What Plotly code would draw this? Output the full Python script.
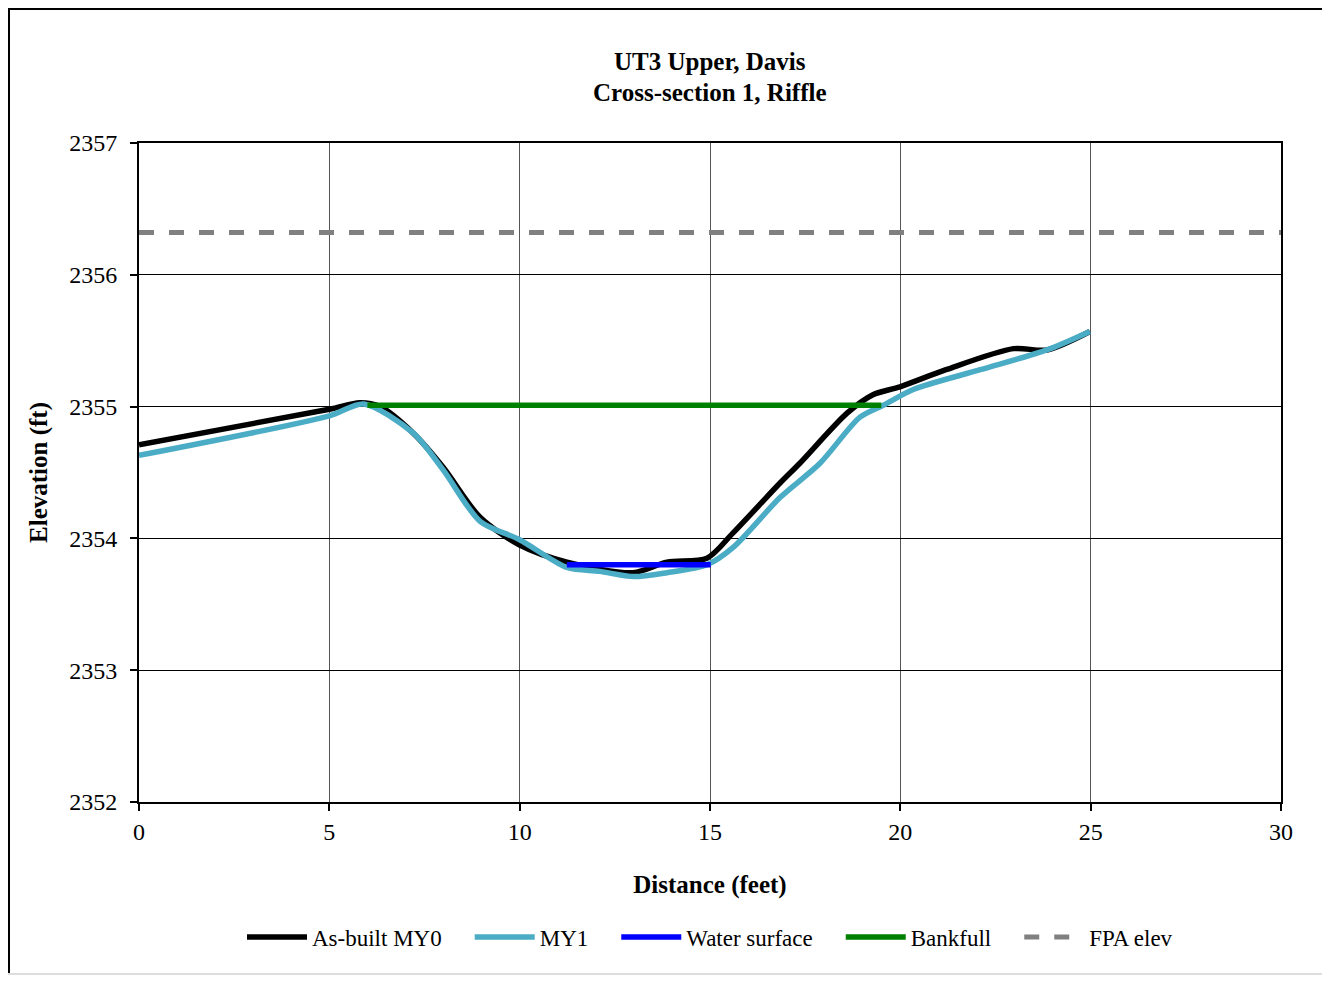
import plotly.graph_objects as go

# surveyed cross-section profiles (distance ft, elevation ft)
asbuilt_x = [0, 5.0, 5.8, 6.33, 7.2, 7.99, 8.96, 10.0, 11.24, 12.98, 13.87, 14.92, 15.6, 16.84, 17.36, 18.6, 19.28, 19.99, 21.2, 22.97, 23.85, 24.98]
asbuilt_y = [2354.71, 2354.98, 2355.03, 2355.0, 2354.80, 2354.54, 2354.16, 2353.95, 2353.82, 2353.74, 2353.82, 2353.85, 2354.04, 2354.42, 2354.57, 2354.95, 2355.09, 2355.15, 2355.28, 2355.44, 2355.43, 2355.57]

my1_x = [0, 5.0, 5.9, 7.2, 7.99, 8.96, 10.0, 11.24, 12.1, 13.0, 13.87, 14.92, 15.6, 16.84, 17.89, 18.94, 19.55, 20.34, 22.1, 23.85, 24.98]
my1_y = [2354.63, 2354.93, 2355.02, 2354.80, 2354.52, 2354.13, 2353.99, 2353.78, 2353.75, 2353.71, 2353.74, 2353.80, 2353.93, 2354.31, 2354.57, 2354.92, 2355.01, 2355.13, 2355.28, 2355.43, 2355.57]

water_x = [11.24, 15.02]
water_y = [2353.80, 2353.80]

bankfull_x = [6.0, 19.5]
bankfull_y = [2355.01, 2355.01]

fpa_x = [0, 30]
fpa_y = [2356.32, 2356.32]

FONT = "Liberation Serif"
pad = "\u00a0" * 4

fig = go.Figure()
fig.add_trace(go.Scatter(x=asbuilt_x, y=asbuilt_y, mode="lines", name="As-built MY0" + pad,
                         line=dict(color="black", width=5.5, shape="spline", smoothing=0.8)))
fig.add_trace(go.Scatter(x=my1_x, y=my1_y, mode="lines", name="MY1" + pad,
                         line=dict(color="#4bacc6", width=5.5, shape="spline", smoothing=0.8)))
fig.add_trace(go.Scatter(x=water_x, y=water_y, mode="lines", name="Water surface" + pad,
                         line=dict(color="#0000ff", width=5.5)))
fig.add_trace(go.Scatter(x=bankfull_x, y=bankfull_y, mode="lines", name="Bankfull" + pad,
                         line=dict(color="#008000", width=5.5)))
fig.add_trace(go.Scatter(x=fpa_x, y=fpa_y, mode="lines", name="FPA elev",
                         line=dict(color="#808080", width=5, dash="dash")))

# page has an 8px body margin, so the figure is sized to fit the window
W, H = 1314, 967
L, R, T, B = 131, 41, 135, 173
pw, ph = W - L - R, H - T - B


def py(fy):
    # figure pixel row -> paper y
    return 1 + (T - fy) / ph


def px(fx):
    return (fx - L) / pw


# outer chart border: top and left dark, bottom faint
fig.add_shape(type="line", xref="paper", yref="paper", x0=px(0), x1=px(W), y0=py(1), y1=py(1),
              line=dict(color="black", width=2))
fig.add_shape(type="line", xref="paper", yref="paper", x0=px(1), x1=px(1), y0=py(0), y1=py(H),
              line=dict(color="black", width=2))
fig.add_shape(type="line", xref="paper", yref="paper", x0=px(0), x1=px(W), y0=py(H - 1), y1=py(H - 1),
              line=dict(color="#dddddd", width=2))

# two-line bold title
for txt, fy in [("<b>UT3 Upper, Davis</b>", 54), ("<b>Cross-section 1, Riffle</b>", 84)]:
    fig.add_annotation(text=txt, xref="paper", yref="paper", x=0.5, y=py(fy),
                       xanchor="center", yanchor="middle", showarrow=False,
                       font=dict(family=FONT, size=25, color="black"))

fig.update_layout(
    width=W, height=H,
    paper_bgcolor="white", plot_bgcolor="white",
    margin=dict(l=L, r=R, t=T, b=B),
    font=dict(family=FONT, size=24, color="black"),
    showlegend=True,
    legend=dict(orientation="h", x=0.5, xanchor="center", xref="paper",
                y=py(929), yanchor="middle", yref="paper",
                font=dict(family=FONT, size=23),
                itemwidth=60, tracegroupgap=0),
)
fig.update_xaxes(range=[0, 30], tick0=0, dtick=5, showgrid=True, gridcolor="#555555",
                 gridwidth=1, zeroline=False, showline=True, linecolor="black",
                 linewidth=2, mirror=True, ticks="outside", ticklen=7, tickcolor="black",
                 tickwidth=1.5,
                 title=dict(text="<b>Distance (feet)</b>", standoff=32,
                            font=dict(family=FONT, size=25)))
fig.update_yaxes(range=[2352, 2357], dtick=1, showgrid=True, gridcolor="black",
                 gridwidth=1, zeroline=False, showline=True, linecolor="black",
                 linewidth=2, mirror=True, ticks="outside", ticklen=7, tickcolor="black",
                 tickwidth=1.5, tickformat="d", ticklabelstandoff=8,
                 title=dict(text="<b>Elevation (ft)</b>", standoff=14,
                            font=dict(family=FONT, size=25)))

fig.write_html("out.html")
